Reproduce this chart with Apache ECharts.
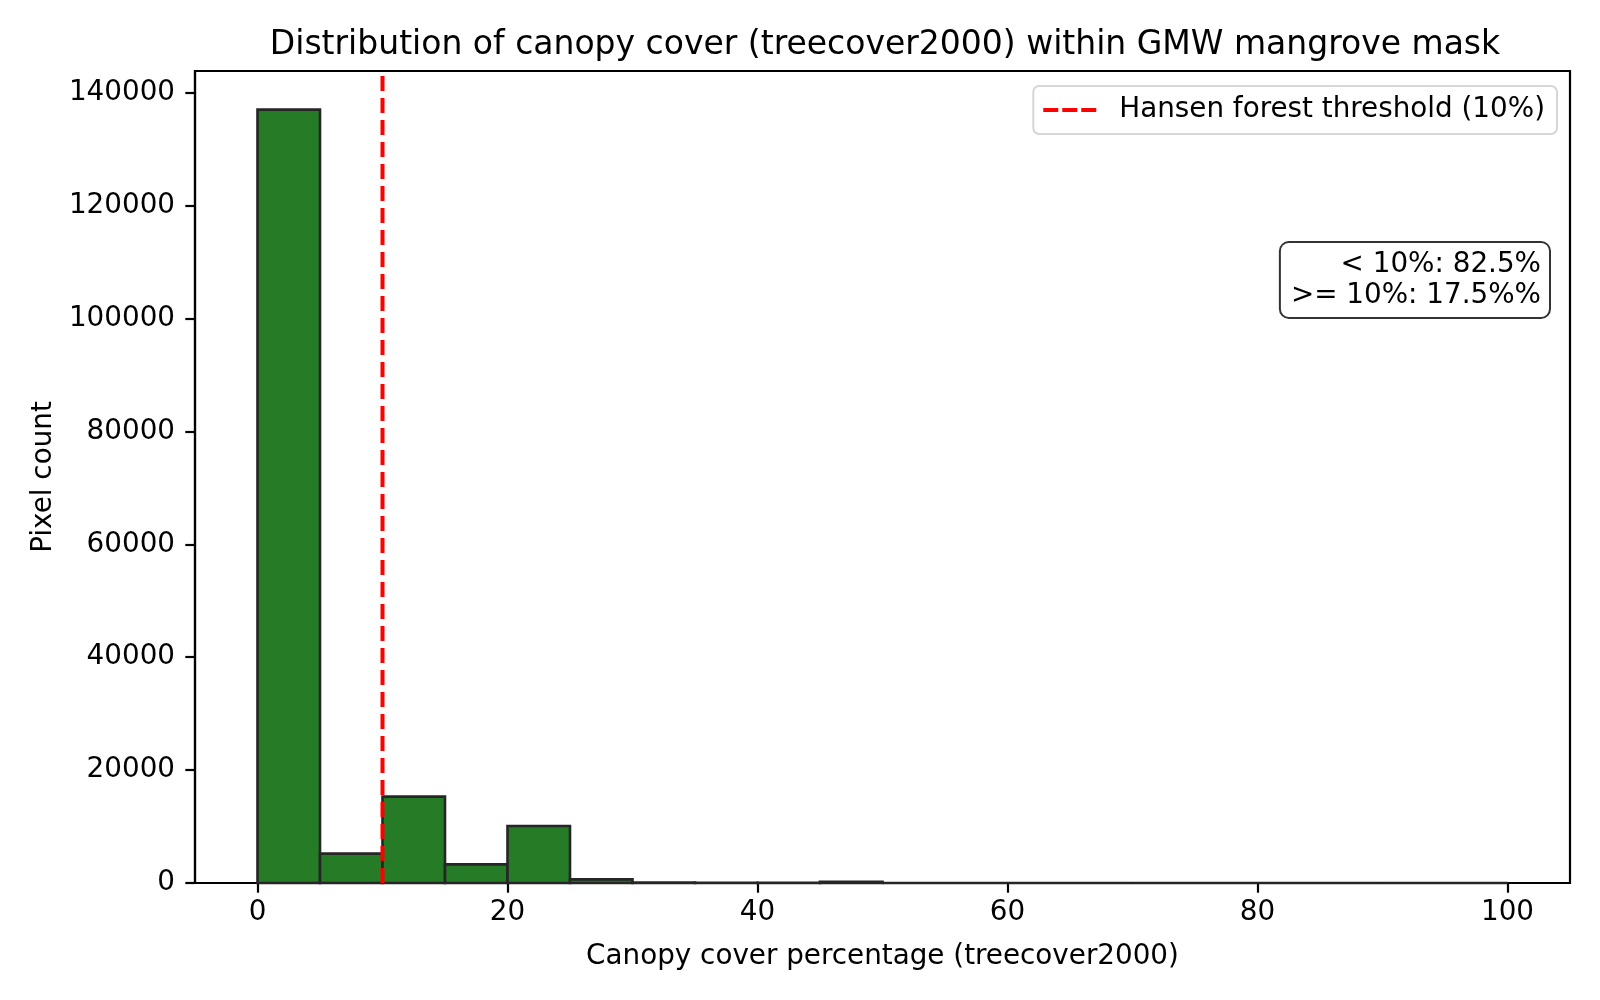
<!DOCTYPE html>
<html>
<head>
<meta charset="utf-8">
<title>canopy cover histogram</title>
<script src="https://cdn.jsdelivr.net/npm/echarts@6/dist/echarts.min.js"></script>
<style>
  html,body{margin:0;padding:0;background:#fff;}
  #main{width:1600px;height:1000px;}
</style>
</head>
<body>
<div id="main"></div>
<script>
// histogram bins (treecover2000, %), width 5
var binStart=[0,5,10,15,20,25,30,35,40,45,50,55,60,65,70,75,80,85,90,95];
var binEnd=[5,10,15,20,25,30,35,40,45,50,55,60,65,70,75,80,85,90,95,100];
var pixelCount=[137000,5200,15300,3300,10100,650,80,30,20,220,0,0,0,0,0,0,0,0,0,0];
var xTicks=[0,20,40,60,80,100];
var yTicks=[0,20000,40000,60000,80000,100000,120000,140000];
var threshold=10;
var thresholdName='Hansen forest threshold (10%)';
var statLines=['< 10%: 82.5%','>= 10%: 17.5%%'];

var FONT='DejaVu Sans';
var myChart=echarts.init(document.getElementById('main'));

var histData=[];
for(var i=0;i<binStart.length;i++){
    histData.push([binStart[i],binEnd[i],pixelCount[i]]);
}
// matplotlib style margins
var xMin=binStart[0]-(binEnd[binEnd.length-1]-binStart[0])*0.05;
var xMax=binEnd[binEnd.length-1]+(binEnd[binEnd.length-1]-binStart[0])*0.05;
var yMax=Math.max.apply(null,pixelCount)*1.05;

function renderBar(params,api){
    var p0=api.coord([api.value(0),api.value(2)]);
    var p1=api.coord([api.value(1),0]);
    return {
        type:'rect',
        shape:{x:p0[0],y:p0[1],width:p1[0]-p0[0],height:p1[1]-p0[1]},
        style:{fill:'#267b26',stroke:'#262626',lineWidth:2.6}
    };
}

var option={
    animation:false,
    backgroundColor:'#fff',
    title:{
        text:'Distribution of canopy cover (treecover2000) within GMW mangrove mask',
        left:880,
        textAlign:'center',
        top:24,
        textStyle:{fontFamily:FONT,fontSize:33,fontWeight:'normal',color:'#000'}
    },
    grid:{
        left:195,right:30,top:71,bottom:117,
        show:true,borderColor:'#000',borderWidth:2.2,
        containLabel:false
    },
    legend:{
        right:43,top:86,
        data:[{name:thresholdName,icon:'path://M0,0h15v4h-15z M19,0h15v4h-15z M38,0h15v4h-15z'}],
        itemWidth:53,itemHeight:4,
        itemStyle:{color:'#ff0000'},
        padding:[10,12,10,10],
        borderColor:'#d6d6d6',borderWidth:2,borderRadius:6,
        backgroundColor:'#fff',
        selectedMode:false,
        textStyle:{fontFamily:FONT,fontSize:27.8,color:'#000',padding:[0,0,0,18]}
    },
    xAxis:{
        type:'value',min:xMin,max:xMax,
        name:'Canopy cover percentage (treecover2000)',
        nameLocation:'middle',nameGap:60,
        nameTextStyle:{fontFamily:FONT,fontSize:27.8,color:'#000'},
        axisLine:{show:true,onZero:false,lineStyle:{color:'#000',width:2.2}},
        axisTick:{show:true,length:9.7,lineStyle:{color:'#000',width:2.2},customValues:xTicks},
        axisLabel:{fontFamily:FONT,fontSize:27.8,color:'#000',margin:16,customValues:xTicks},
        splitLine:{show:false}
    },
    yAxis:{
        type:'value',min:0,max:yMax,
        name:'Pixel count',
        nameLocation:'middle',nameGap:128,nameRotate:90,
        nameTextStyle:{fontFamily:FONT,fontSize:27.8,color:'#000'},
        axisLine:{show:true,onZero:false,lineStyle:{color:'#000',width:2.2}},
        axisTick:{show:true,length:9.7,lineStyle:{color:'#000',width:2.2},customValues:yTicks},
        axisLabel:{fontFamily:FONT,fontSize:27.8,color:'#000',margin:20,customValues:yTicks,
            formatter:function(v){return String(v);}},
        splitLine:{show:false}
    },
    series:[
        {
            name:'hist',
            type:'custom',
            renderItem:renderBar,
            encode:{x:[0,1],y:2},
            data:histData,
            z:2
        },
        {
            name:thresholdName,
            type:'line',
            data:[[threshold,0],[threshold,yMax]],
            symbol:'none',
            lineStyle:{color:'#ff0000',width:4,type:[15,7]},
            itemStyle:{color:'#ff0000'},
            z:3
        }
    ],
    graphic:[
        {
            type:'text',
            x:1549,
            y:243,
            z:10,
            style:{
                text:statLines.join('\n'),
                fontFamily:FONT,fontSize:27.8,lineHeight:31,
                fill:'#000',align:'right',verticalAlign:'top',
                backgroundColor:'#fff',
                borderColor:'#333',borderWidth:2,borderRadius:8,
                padding:[6,8,6,10]
            }
        }
    ]
};

myChart.setOption(option);
</script>
</body>
</html>
